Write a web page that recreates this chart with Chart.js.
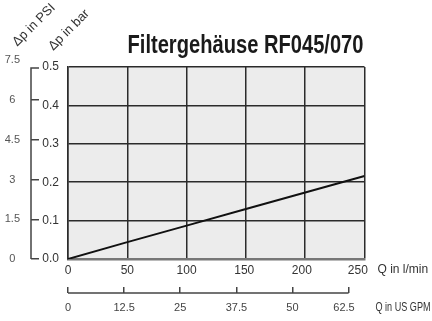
<!DOCTYPE html>
<html>
<head>
<meta charset="utf-8">
<script src="https://cdn.jsdelivr.net/npm/chart.js@4"></script>
<style>
  html, body { margin: 0; padding: 0; background: #ffffff; }
  canvas { display: block; }
</style>
</head>
<body>
<canvas id="c" width="432" height="321"></canvas>
<script>
// ---- data ----
const flowLpm = [0, 50, 100, 150, 200, 250];
const dpBar = [0, 0.044, 0.087, 0.130, 0.173, 0.216];
const xTicksLpm = [0, 50, 100, 150, 200, 250];
const xTicksGpm = [0, 12.5, 25, 37.5, 50, 62.5];
const yTicksBar = [0, 0.1, 0.2, 0.3, 0.4, 0.5];
const yTicksPsi = [0, 1.5, 3, 4.5, 6, 7.5];
const PSI_PER_BAR = 14.5038;
const LPM_PER_GPM = 3.78541;
const titleText = 'Filtergehäuse RF045/070';

const FONT = "'Liberation Sans', Arial, sans-serif";
Chart.defaults.font.family = FONT;

const points = flowLpm.map((q, i) => ({ x: q, y: dpBar[i] }));

// narrow-text helper (horizontally condensed real text)
function narrowText(ctx, text, x, y, width) {
  const w = ctx.measureText(text).width;
  const sx = Math.min(1, width / w);
  ctx.save();
  ctx.translate(x, y);
  ctx.scale(sx, 1);
  ctx.fillText(text, 0, 0);
  ctx.restore();
}

const decor = {
  id: 'decor',
  afterDraw(chart) {
    const { ctx, chartArea, scales } = chart;
    const psi = scales.psi, x2 = scales.x2, x = scales.x;
    ctx.save();
    ctx.strokeStyle = '#444';
    ctx.lineWidth = 1.5;
    // PSI bracket
    const bx = psi.right - 8;
    ctx.beginPath();
    ctx.moveTo(bx, psi.getPixelForValue(0));
    ctx.lineTo(bx, chartArea.top + 1);
    ctx.lineTo(psi.right, chartArea.top + 1);
    ctx.stroke();
    // GPM axis line
    const gy = x2.top + 6;
    ctx.beginPath();
    ctx.moveTo(x2.getPixelForValue(xTicksGpm[0]), gy);
    ctx.lineTo(x2.getPixelForValue(xTicksGpm[xTicksGpm.length - 1]), gy);
    ctx.stroke();
    // unit labels
    ctx.fillStyle = '#333';
    ctx.textAlign = 'left';
    ctx.textBaseline = 'middle';
    ctx.font = '12px ' + FONT;
    ctx.fillText('Q in l/min', chartArea.right + 13, x.top + 11);
    ctx.font = '12px ' + FONT;
    narrowText(ctx, 'Q in US GPM', chartArea.right + 11, gy + 15, 55);
    // rotated axis titles
    ctx.font = '13px ' + FONT;
    ctx.textAlign = 'center';
    const rot = (t, cx, cy) => {
      ctx.save();
      ctx.translate(cx, cy);
      ctx.rotate(-Math.PI / 4);
      ctx.fillText(t, 0, 0);
      ctx.restore();
    };
    rot('Δp in PSI', 34, 25);
    rot('Δp in bar', 69, 30);
    // title
    ctx.fillStyle = '#1a1a1a';
    ctx.font = 'bold 25px ' + FONT;
    ctx.textAlign = 'right';
    ctx.textBaseline = 'alphabetic';
    narrowText(ctx, titleText, chartArea.right - 1, 53, 236);
    ctx.restore();
  }
};

// small label nudges (trailing spaces) to mirror the reference's label placement
const lpmLabel = v => String(v) + ({ 150: ' ', 200: '  ', 250: '    ' }[v] || '');
const gpmLabel = v => String(v) + (v === 62.5 ? '   ' : '');

new Chart(document.getElementById('c'), {
  type: 'line',
  data: {
    datasets: [{
      data: points,
      xAxisID: 'x',
      yAxisID: 'y',
      borderColor: '#111',
      borderWidth: 2,
      pointRadius: 0,
      tension: 0,
      fill: false
    }]
  },
  options: {
    responsive: false,
    animation: false,
    events: [],
    layout: { padding: { top: 67, right: 67.5, bottom: 4, left: 0 } },
    plugins: {
      legend: { display: false },
      tooltip: { enabled: false },
      title: { display: false }
    },
    scales: {
      x: {
        type: 'linear',
        position: 'bottom',
        weight: 0,
        min: 0, max: 250,
        afterBuildTicks: s => { s.ticks = xTicksLpm.map(v => ({ value: v })); },
        afterFit: s => { s.height = 28; },
        grid: { drawOnChartArea: true, drawTicks: false, color: '#2b2b2b', lineWidth: 1.5 },
        border: { display: true, color: '#777', width: 2.5 },
        ticks: { autoSkip: false, maxRotation: 0, padding: 4, color: '#333', font: { size: 12 },
                 callback: v => lpmLabel(v) }
      },
      x2: {
        type: 'linear',
        position: 'bottom',
        weight: 1,
        min: 0, max: 250 / LPM_PER_GPM,
        afterBuildTicks: s => { s.ticks = xTicksGpm.map(v => ({ value: v })); },
        afterFit: s => { s.height = 30; },
        grid: { drawOnChartArea: false, drawTicks: true, tickLength: 6, color: '#444', lineWidth: 1.5 },
        border: { display: false },
        ticks: { autoSkip: false, maxRotation: 0, padding: 8, color: '#444', font: { size: 11 },
                 callback: v => gpmLabel(v) }
      },
      y: {
        type: 'linear',
        position: 'left',
        weight: 0,
        min: 0, max: 0.5,
        afterBuildTicks: s => { s.ticks = yTicksBar.map(v => ({ value: v })); },
        afterFit: s => { s.width = 29; },
        grid: { drawOnChartArea: true, drawTicks: false, color: '#2b2b2b', lineWidth: 1.5 },
        border: { display: true, color: '#2b2b2b', width: 1.5 },
        ticks: { autoSkip: false, padding: 9, color: '#333', font: { size: 12 },
                 callback: v => Number(v).toFixed(1) }
      },
      psi: {
        type: 'linear',
        position: 'left',
        weight: 1,
        min: 0, max: 0.5 * PSI_PER_BAR,
        afterBuildTicks: s => { s.ticks = yTicksPsi.map(v => ({ value: v })); },
        afterFit: s => { s.width = 39; },
        grid: { drawOnChartArea: false, drawTicks: true, tickLength: 8, lineWidth: 1.5,
                color: c => (c.tick && c.tick.value > 7) ? 'rgba(0,0,0,0)' : '#444' },
        border: { display: false },
        ticks: { autoSkip: false, crossAlign: 'center', padding: 11, color: '#555', font: { size: 11 },
                 callback: v => String(v) }
      }
    }
  },
  plugins: [decor, {
    id: 'plotBg',
    beforeDraw(chart) {
      const { ctx, chartArea: a } = chart;
      ctx.save();
      ctx.fillStyle = '#ececec';
      ctx.fillRect(a.left, a.top, a.right - a.left, a.bottom - a.top);
      ctx.restore();
    }
  }]
});
</script>
</body>
</html>
